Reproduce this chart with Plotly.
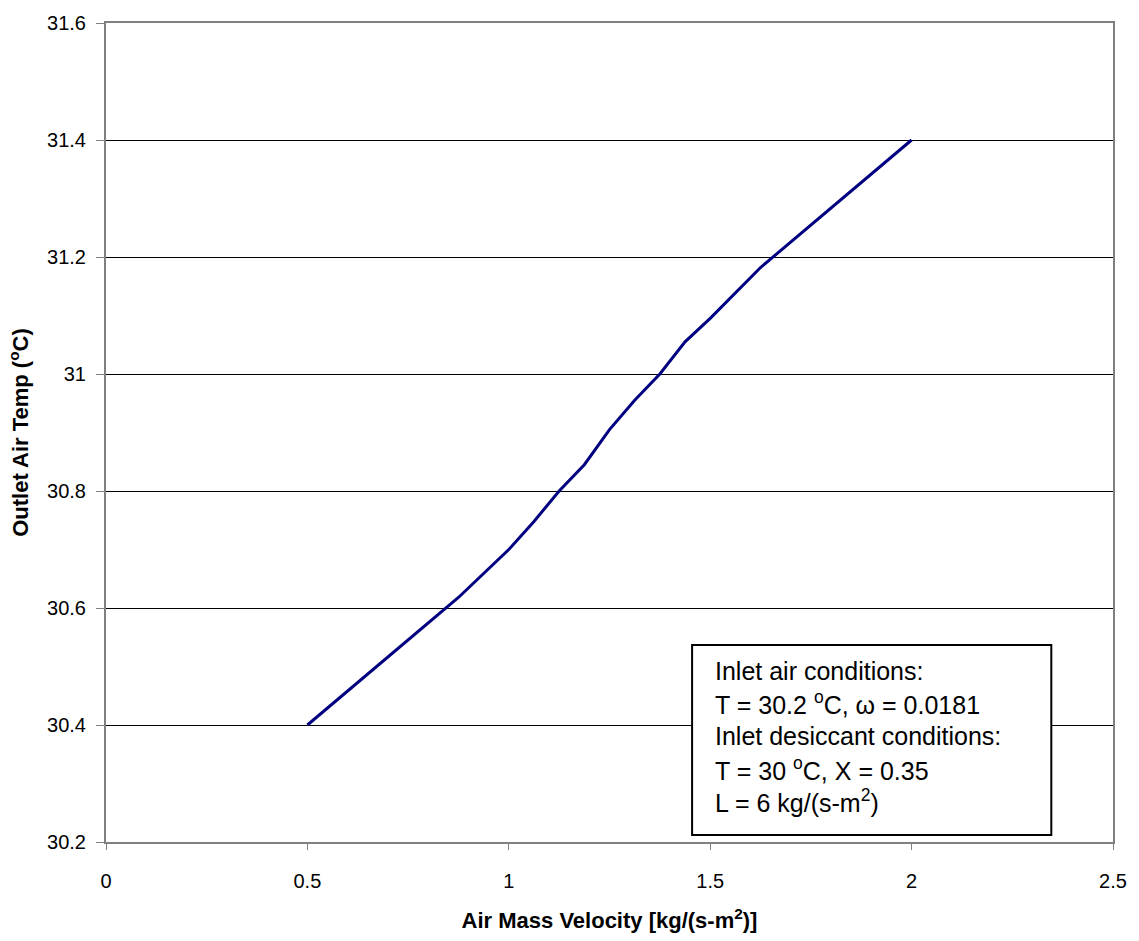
import plotly.graph_objects as go

# Outlet air temperature vs. air mass velocity
air_mass_velocity = [0.5, 0.875, 1.0, 1.0625, 1.125, 1.1875, 1.25, 1.3125, 1.375, 1.4375, 1.5, 1.625, 2.0]
outlet_temp = [30.4, 30.618, 30.70, 30.748, 30.80, 30.845, 30.905, 30.955, 31.0, 31.055, 31.095, 31.182, 31.4]

x_ticks = [0, 0.5, 1, 1.5, 2, 2.5]
x_tick_labels = ["0", "0.5", "1", "1.5", "2", "2.5"]
y_ticks = [30.2, 30.4, 30.6, 30.8, 31.0, 31.2, 31.4, 31.6]
y_tick_labels = ["30.2", "30.4", "30.6", "30.8", "31", "31.2", "31.4", "31.6"]

conditions_text = [
    "Inlet air conditions:",
    "T = 30.2 <sup>o</sup>C, ω = 0.0181",
    "Inlet desiccant conditions:",
    "T = 30 <sup>o</sup>C, X = 0.35",
    "L = 6 kg/(s-m<sup>2</sup>)",
]

font_family = "Liberation Sans, Arial, sans-serif"

# plot-area geometry in pixels (used to place the text box in paper coords)
W, H = 1139, 941
L_M, R_M, T_M, B_M = 106, 21, 20, 94
PW, PH = W - L_M - R_M, H - T_M - B_M


def px_x(px):
    return (px - L_M) / PW


def px_y(py):
    return (H - B_M - py) / PH


fig = go.Figure()
fig.add_trace(go.Scatter(
    x=air_mass_velocity, y=outlet_temp, mode="lines",
    line=dict(color="#000080", width=3),
    showlegend=False,
))

fig.update_layout(
    width=W, height=H,
    paper_bgcolor="white", plot_bgcolor="white",
    margin=dict(l=L_M, r=R_M, t=T_M, b=B_M),
    font=dict(family=font_family, color="black", size=20),
    xaxis=dict(
        range=[0, 2.5], tickvals=x_ticks, ticktext=x_tick_labels,
        showgrid=False, zeroline=False,
        showline=True, linecolor="#808080", linewidth=2, mirror=True,
        ticks="outside", ticklen=6, tickcolor="#808080",
        ticklabelstandoff=14,
        tickfont=dict(size=20),
        title=dict(text="<b>Air Mass Velocity [kg/(s-m<sup>2</sup>)]</b>",
                   font=dict(size=22), standoff=22),
    ),
    yaxis=dict(
        range=[30.2, 31.6], tickvals=y_ticks, ticktext=y_tick_labels,
        showgrid=True, gridcolor="black", gridwidth=1, zeroline=False,
        showline=True, linecolor="#808080", linewidth=2, mirror=True,
        ticks="outside", ticklen=8, tickcolor="#808080",
        ticklabelstandoff=6,
        tickfont=dict(size=20),
        title=dict(text="<b>Outlet Air Temp (<sup>o</sup>C)</b>",
                   font=dict(size=22), standoff=12),
    ),
)

# Box with the inlet conditions
fig.add_shape(type="rect", xref="paper", yref="paper",
              x0=px_x(695), x1=px_x(1056),
              y0=px_y(840), y1=px_y(648),
              line=dict(color="black", width=2), fillcolor="white", layer="above")

line_baselines = [683, 716, 749, 782, 815]
for text, base in zip(conditions_text, line_baselines):
    fig.add_annotation(
        xref="paper", yref="paper",
        x=px_x(716), y=px_y(base - 9),
        xanchor="left", yanchor="middle", align="left", showarrow=False,
        text=text,
        font=dict(size=25, family=font_family, color="black"),
    )

fig.write_html("out.html")
